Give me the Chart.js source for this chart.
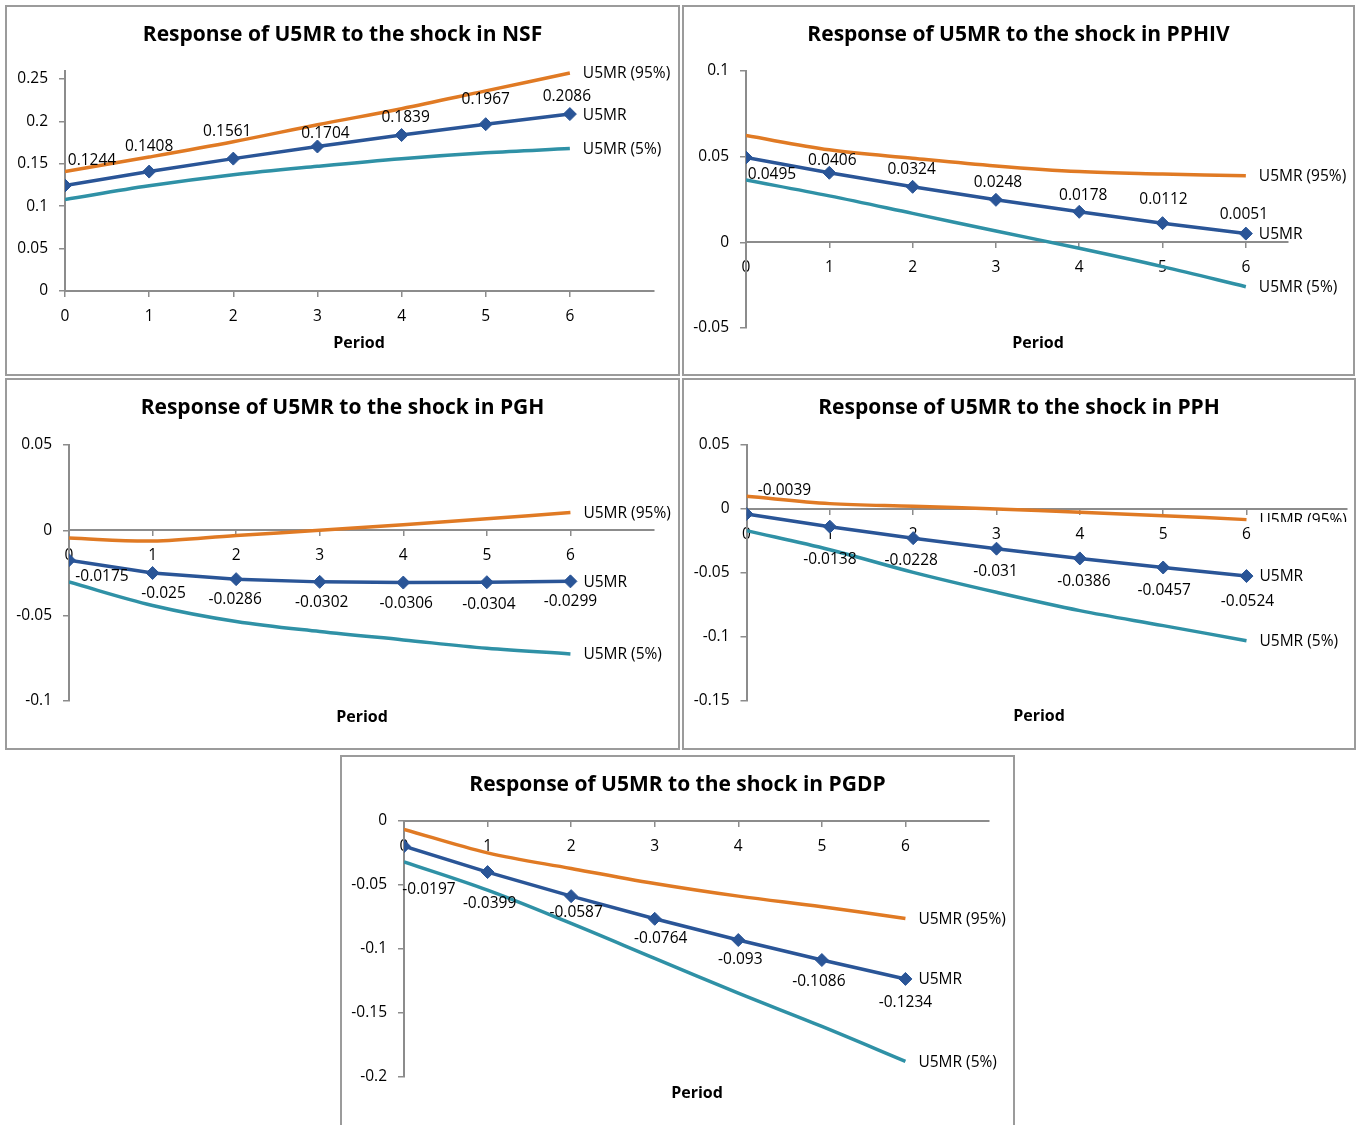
<!DOCTYPE html>
<html>
<head>
<meta charset="utf-8">
<title>Response of U5MR to shocks</title>
<script src="https://cdn.jsdelivr.net/npm/chart.js@4.4.1/dist/chart.umd.min.js"></script>
<style>
  body { margin: 0; background: #fff; width: 1359px; height: 1125px; overflow: hidden; position: relative; }
  .panel { position: absolute; box-sizing: border-box; border: 2px solid #9b9b9b; background: #fff; }
  .panel canvas { position: absolute; left: 0; top: 0; }
</style>
</head>
<body>
<div class="panel" id="p1"><canvas id="c1"></canvas></div>
<div class="panel" id="p2"><canvas id="c2"></canvas></div>
<div class="panel" id="p3"><canvas id="c3"></canvas></div>
<div class="panel" id="p4"><canvas id="c4"></canvas></div>
<div class="panel" id="p5"><canvas id="c5"></canvas></div>
<script>
// periods after the shock
const periods = [0, 1, 2, 3, 4, 5, 6];

// NSF
const nsfMid = [0.1244, 0.1408, 0.1561, 0.1704, 0.1839, 0.1967, 0.2086];
const nsfUp  = [0.141, 0.158, 0.176, 0.196, 0.215, 0.236, 0.257];
const nsfLow = [0.108, 0.124, 0.137, 0.147, 0.156, 0.163, 0.168];
const nsfTicks = [0, 0.05, 0.1, 0.15, 0.2, 0.25];

// PPHIV
const pphivMid = [0.0495, 0.0406, 0.0324, 0.0248, 0.0178, 0.0112, 0.0051];
const pphivUp  = [0.0623, 0.054, 0.0491, 0.0446, 0.0413, 0.0399, 0.0388];
const pphivLow = [0.0364, 0.0271, 0.0169, 0.0066, -0.0035, -0.0142, -0.0259];
const pphivTicks = [-0.05, 0, 0.05, 0.1];

// PGH
const pghMid = [-0.0175, -0.025, -0.0286, -0.0302, -0.0306, -0.0304, -0.0299];
const pghUp  = [-0.0045, -0.0063, -0.003, 0.0, 0.0033, 0.0068, 0.0104];
const pghLow = [-0.0303, -0.044, -0.0534, -0.0593, -0.0642, -0.0691, -0.0724];
const pghTicks = [-0.1, -0.05, 0, 0.05];

// PPH
const pphMid = [-0.0039, -0.0138, -0.0228, -0.031, -0.0386, -0.0457, -0.0524];
const pphUp  = [0.0099, 0.0042, 0.0021, 0.0, -0.0026, -0.0052, -0.0083];
const pphLow = [-0.0169, -0.0318, -0.0495, -0.0651, -0.0794, -0.0911, -0.1029];
const pphTicks = [-0.15, -0.1, -0.05, 0, 0.05];

// PGDP
const pgdpMid = [-0.0197, -0.0399, -0.0587, -0.0764, -0.093, -0.1086, -0.1234];
const pgdpUp  = [-0.0065, -0.0249, -0.0371, -0.0488, -0.0587, -0.067, -0.0761];
const pgdpLow = [-0.0319, -0.054, -0.08, -0.1073, -0.1345, -0.1605, -0.1878];
const pgdpTicks = [-0.2, -0.15, -0.1, -0.05, 0];

const ORANGE = '#e07a24';
const BLUE = '#2a5597';
const TEAL = '#2f91a6';
const AXIS = '#8c8c8c';
const FONT = "'Open Sans', sans-serif";

// page layout of each panel: box, plot area, label nudges
const panels = [
  { id: 'c1', div: 'p1', shock: 'NSF', mid: nsfMid, up: nsfUp, low: nsfLow, ticks: nsfTicks,
    box: [5, 5, 675, 371], area: [65, 70.5, 654, 291], yMin: 0, yMax: 0.26, xMax: 7,
    period: [359, 343], lab: [[27, -25], [0, -25], [-6, -27], [8, -13], [4, -17], [0, -25], [-3, -18]] },
  { id: 'c2', div: 'p2', shock: 'PPHIV', mid: pphivMid, up: pphivUp, low: pphivLow, ticks: pphivTicks,
    box: [682, 5, 673, 371], area: [746, 71, 1287.5, 328], yMin: -0.05, yMax: 0.1, xMax: 6.5,
    period: [1038, 343], lab: [[26, 17], [3, -12], [-1, -17], [2, -17], [4, -16], [1, -24], [-2, -19]] },
  { id: 'c3', div: 'p3', shock: 'PGH', mid: pghMid, up: pghUp, low: pghLow, ticks: pghTicks,
    box: [5, 378, 675, 372], area: [69, 445, 654, 701], yMin: -0.1, yMax: 0.05, xMax: 7,
    period: [362, 717], lab: [[33, 16], [11, 21], [-1, 20], [2, 21], [3, 21], [2, 22], [0, 20]] },
  { id: 'c4', div: 'p4', shock: 'PPH', mid: pphMid, up: pphUp, low: pphLow, ticks: pphTicks,
    box: [682, 378, 674, 372], area: [746.5, 445, 1350, 701], yMin: -0.15, yMax: 0.05, xMax: 7.2,
    period: [1039, 716], lab: [[38, -23], [0, 33], [-2, 22], [-1, 23], [4, 23], [1, 23], [1, 26]],
    clipUp: 522 },
  { id: 'c5', div: 'p5', shock: 'PGDP', mid: pgdpMid, up: pgdpUp, low: pgdpLow, ticks: pgdpTicks,
    box: [340, 755, 675, 380], area: [404, 821, 989, 1077], yMin: -0.2, yMax: 0, xMax: 7,
    period: [697, 1093], lab: [[25, 43], [2, 32], [5, 16], [6, 20], [2, 20], [-3, 22], [0, 24]] }
];

function pts(arr) {
  return periods.map((p, i) => ({ x: p, y: arr[i] }));
}

function textPlugin(p, ox, oy) {
  return {
    id: 'panelText',
    afterDatasetsDraw(chart) {
      const ctx = chart.ctx;
      ctx.save();
      ctx.fillStyle = '#000';
      // title
      ctx.font = "bold 21px " + FONT;
      ctx.textAlign = 'center';
      ctx.textBaseline = 'middle';
      ctx.fillText('Response of U5MR to the shock in ' + p.shock, p.box[0] + p.box[2] / 2 - ox, p.box[1] + 30 - oy);
      // axis title
      ctx.font = "bold 16px " + FONT;
      ctx.fillText('Period', p.period[0] - ox, p.period[1] - oy);
      // values on the middle series
      ctx.font = "15.5px " + FONT;
      const mid = chart.getDatasetMeta(1);
      mid.data.forEach((el, i) => {
        ctx.fillText(String(p.mid[i]), el.x + p.lab[i][0], el.y + p.lab[i][1]);
      });
      // series names at the last point
      ctx.textAlign = 'left';
      chart.data.datasets.forEach((ds, d) => {
        const els = chart.getDatasetMeta(d).data;
        const last = els[els.length - 1];
        ctx.save();
        if (d === 0 && p.clipUp) {
          ctx.beginPath();
          ctx.rect(0, 0, chart.width, p.clipUp - oy);
          ctx.clip();
        }
        ctx.fillText(ds.label, last.x + 13, last.y + 1);
        ctx.restore();
      });
      ctx.restore();
    }
  };
}

panels.forEach(p => {
  const div = document.getElementById(p.div);
  div.style.left = p.box[0] + 'px';
  div.style.top = p.box[1] + 'px';
  div.style.width = p.box[2] + 'px';
  div.style.height = p.box[3] + 'px';
  const canvas = document.getElementById(p.id);
  const cw = p.box[2] - 4, ch = p.box[3] - 4;
  canvas.width = cw;
  canvas.height = ch;
  const ox = p.box[0] + 2, oy = p.box[1] + 2;
  // y axis box reaches almost to the panel edge so its labels are not clipped
  const yW = p.area[0] - ox - 2;

  new Chart(canvas, {
    type: 'line',
    data: {
      datasets: [
        { label: 'U5MR (95%)', data: pts(p.up), borderColor: ORANGE, borderWidth: 3.5, pointRadius: 0, tension: 0.35 },
        { label: 'U5MR', data: pts(p.mid), borderColor: BLUE, backgroundColor: BLUE, borderWidth: 3.5,
          pointStyle: 'rectRot', pointRadius: 6.5, pointBorderWidth: 1, tension: 0 },
        { label: 'U5MR (5%)', data: pts(p.low), borderColor: TEAL, borderWidth: 3.5, pointRadius: 0, tension: 0.35 }
      ]
    },
    options: {
      responsive: false,
      animation: false,
      layout: {
        padding: {
          left: 2,
          top: p.area[1] - oy,
          right: cw - (p.area[2] - ox),
          bottom: ch - (p.area[3] - oy)
        }
      },
      plugins: { legend: { display: false }, tooltip: { enabled: false } },
      scales: {
        x: {
          type: 'linear',
          position: { y: 0 },
          min: 0,
          max: p.xMax,
          afterBuildTicks: s => { s.ticks = periods.map(v => ({ value: v })); },
          border: { color: AXIS, width: 2 },
          grid: { drawOnChartArea: false, drawTicks: true, tickLength: 5, color: AXIS, lineWidth: 1.5 },
          ticks: { color: '#000', font: { family: FONT, size: 15.5 }, padding: 11, maxRotation: 0, callback: v => String(v) }
        },
        y: {
          min: p.yMin,
          max: p.yMax,
          afterBuildTicks: s => { s.ticks = p.ticks.map(v => ({ value: v })); },
          afterFit: s => { s.width = yW; },
          border: { color: AXIS, width: 2 },
          grid: { drawOnChartArea: false, drawTicks: true, tickLength: 6, color: AXIS, lineWidth: 1.5 },
          ticks: { color: '#000', font: { family: FONT, size: 15.5 }, padding: 11, callback: v => String(v) }
        }
      }
    },
    plugins: [textPlugin(p, ox, oy)]
  });
});
</script>
</body>
</html>
